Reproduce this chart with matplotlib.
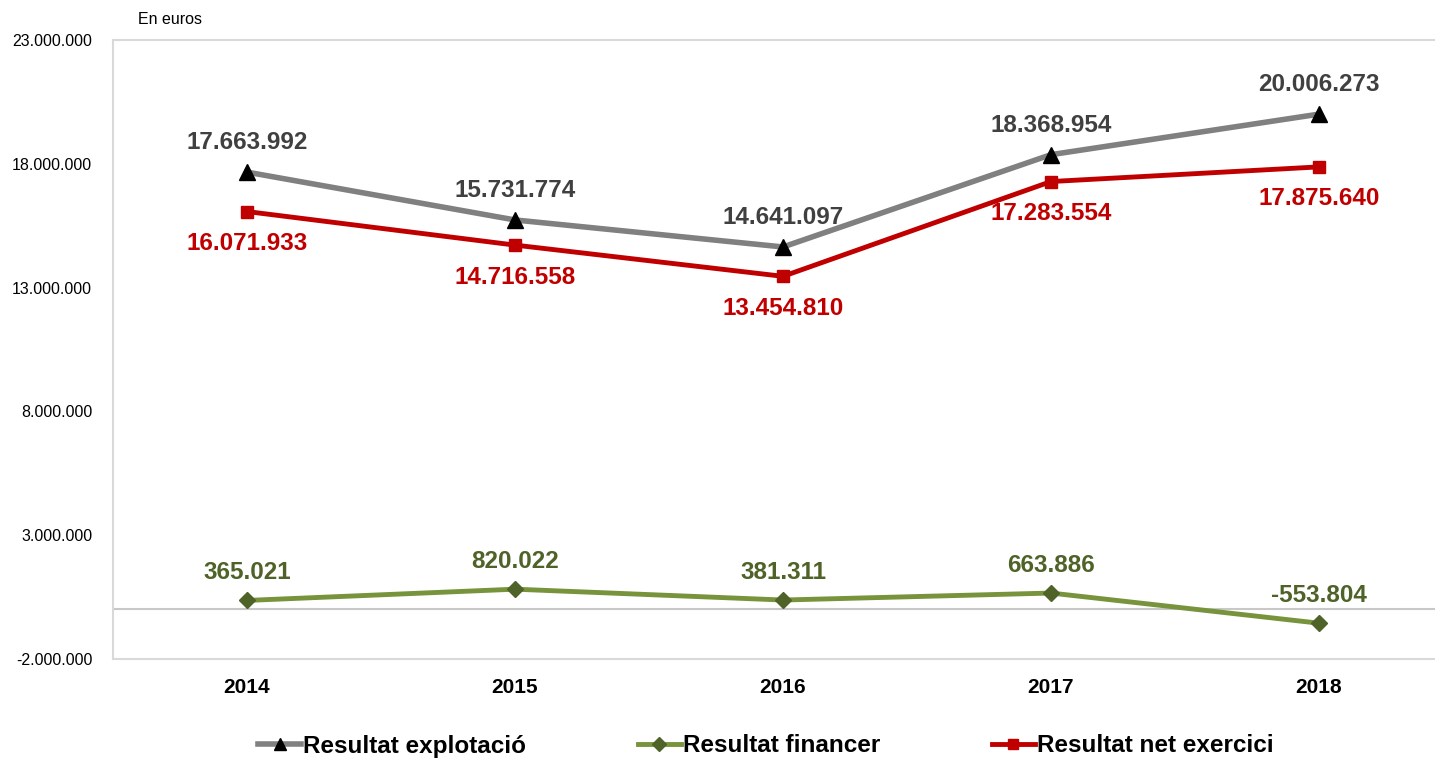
import numpy as np
import matplotlib
matplotlib.use('Agg')
import matplotlib.pyplot as plt

plt.rcParams['font.family'] = ['Liberation Sans', 'DejaVu Sans']

years = ['2014', '2015', '2016', '2017', '2018']
explotacio = [17663992, 15731774, 14641097, 18368954, 20006273]
financer = [365021, 820022, 381311, 663886, -553804]
net = [16071933, 14716558, 13454810, 17283554, 17875640]

yticks = [-2000000, 3000000, 8000000, 13000000, 18000000, 23000000]


def fmt(v):
    s = '{:,}'.format(abs(int(v))).replace(',', '.')
    return ('-' if v < 0 else '') + s


#======================================
fig = plt.figure(figsize=(14.35, 7.61), dpi=100)
ax = fig.add_axes([113/1435, (761-659)/761, 1 - 113/1435, (659-40)/761])
#======================================

x = np.arange(len(years))

ax.axhline(0, color='#C8C8C8', linewidth=1.5, zorder=1)

ax.plot(x, explotacio, '-', color='#808080', linewidth=4,
        marker='^', markersize=11, markerfacecolor='black', markeredgecolor='black',
        label='Resultat explotació', zorder=3)
ax.plot(x, financer, '-', color='#77933C', linewidth=3.5,
        marker='D', markersize=8.5, markerfacecolor='#4F6228', markeredgecolor='#4F6228',
        label='Resultat financer', zorder=3)
ax.plot(x, net, '-', color='#C00000', linewidth=3.5,
        marker='s', markersize=9, markerfacecolor='#C00000', markeredgecolor='#C00000',
        label='Resultat net exercici', zorder=3)

for i in range(len(years)):
    ax.annotate(fmt(explotacio[i]), (x[i], explotacio[i]), xytext=(0, 21),
                textcoords='offset points', ha='center', va='center',
                fontsize=17.5, fontweight='bold', color='#404040')
    ax.annotate(fmt(financer[i]), (x[i], financer[i]), xytext=(0, 20),
                textcoords='offset points', ha='center', va='center',
                fontsize=17.5, fontweight='bold', color='#4F6228')
    ax.annotate(fmt(net[i]), (x[i], net[i]), xytext=(0, -23),
                textcoords='offset points', ha='center', va='center',
                fontsize=17.5, fontweight='bold', color='#C00000')

ax.set_xlim(-0.5, -0.5 + (1435 - 113) / 268.0)
ax.set_ylim(-2000000, 23000000)
ax.set_xticks(x)
ax.set_xticklabels(years, fontsize=15, fontweight='bold')
ax.set_yticks(yticks)
ax.set_yticklabels([fmt(v) for v in yticks], fontsize=11.5)
ax.tick_params(axis='both', length=0)
ax.tick_params(axis='y', pad=15)
ax.tick_params(axis='x', pad=14)

for side in ['left', 'top', 'bottom']:
    ax.spines[side].set_color('#D9D9D9')
    ax.spines[side].set_linewidth(1.5)
ax.spines['right'].set_visible(False)

fig.text(138/1435, 1 - 20/761, 'En euros', fontsize=11.5, ha='left', va='center')

fig.legend(loc='center', bbox_to_anchor=(766/1435, 1 - 746/761), ncol=3,
           frameon=False, prop={'size': 17.5, 'weight': 'bold'},
           handlelength=1.75, handletextpad=0.1, columnspacing=4.6,
           markerscale=0.85)

plt.savefig('out.png', dpi=100)
